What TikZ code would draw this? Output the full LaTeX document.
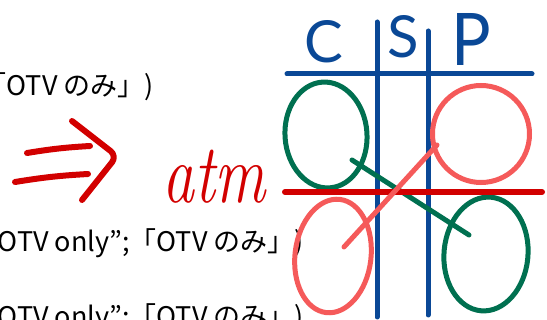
\documentclass[tikz,border=0pt]{standalone}
\usepackage{fontspec}
\newfontfamily\jpfont{Noto Sans CJK JP}
\newfontfamily\handfont{Lato}
\usetikzlibrary{shapes.geometric}
\definecolor{blueC}{RGB}{10,72,150}
\definecolor{greenC}{RGB}{0,112,80}
\definecolor{salmonC}{RGB}{245,90,90}
\definecolor{redC}{RGB}{210,0,0}
\tikzset{
  txt/.style={inner sep=0pt, anchor=base east, font=\jpfont\fontsize{27}{27}\selectfont, text=black},
  bluestroke/.style={draw=blueC, line width=5pt, line cap=round},
  ring/.style={ellipse, draw, line width=5pt, inner sep=0pt},
  greenring/.style={ring, draw=greenC},
  salmonring/.style={ring, draw=salmonC},
  handletter/.style={inner sep=0pt, anchor=base, text=blueC, font=\handfont\fontsize{58}{58}\selectfont},
  arrowstroke/.style={draw=redC, line width=6pt, line cap=round, line join=round},
}
\begin{document}
\begin{tikzpicture}[x=1pt,y=-1pt]
\useasboundingbox (0,0) rectangle (547,320);
\clip (0,0) rectangle (547,320);
% text lines (cut at left)
\node[txt] (l1) at (154,96) {「OTV のみ」)};
\node[txt] (l2) at (304,252) {OTV only”;「OTV のみ」)};
\node[txt] (l3) at (304,327) {OTV only”;「OTV のみ」)};
% grid
\coordinate (h1a) at (287,74);
\coordinate (h1b) at (532,74);
\coordinate (v1a) at (377,22);
\coordinate (v1b) at (377,317);
\coordinate (v2a) at (428,31);
\coordinate (v2b) at (428,315);
\draw[bluestroke] (h1a) -- (h1b);
\draw[bluestroke] (v1a) -- (v1b);
\draw[bluestroke] (v2a) -- (v2b);
% rings
\node[greenring, minimum width=82pt, minimum height=106pt, rotate=4] (gTL) at (326,135) {};
\node[salmonring, minimum width=97pt, minimum height=97pt] (rTR) at (481,134) {};
\node[salmonring, minimum width=76pt, minimum height=114pt, rotate=-7] (rBL) at (333,256) {};
\node[greenring, minimum width=84pt, minimum height=114pt, rotate=-5] (gBR) at (486,254) {};
% diagonals and red divider
\coordinate (g1) at (352,160);
\coordinate (g2) at (469,235);
\draw[draw=greenC, line width=5pt, line cap=round] (g1) -- (g2);
\coordinate (ra) at (285,192);
\coordinate (rb) at (542,192);
\draw[draw=redC, line width=6pt, line cap=round] (ra) -- (rb);
\coordinate (s1) at (437,145);
\coordinate (s2) at (344,247);
\draw[draw=salmonC, line width=5pt, line cap=round] (s1) -- (s2);
% column letters
\node[handletter] (C) at (324,63) {C};
\node[handletter] (S) at (403,58) {S};
\node[handletter, font=\handfont\fontsize{66}{66}\selectfont, yscale=1.1] (P) at (471,66) {P};
% double arrow
\coordinate (a1) at (27,153);
\coordinate (a2) at (90,146);
\coordinate (b1) at (15,182);
\coordinate (b2) at (88,174);
\coordinate (c1) at (72,121);
\coordinate (c2) at (117,156);
\coordinate (c3) at (82,200);
\draw[arrowstroke] (a1) to[bend left=3] (a2);
\draw[arrowstroke] (b1) to[bend left=3] (b2);
\draw[arrowstroke, rounded corners=8pt] (c1) -- (c2) -- (c3);
% atm
\node[inner sep=0pt, anchor=base west, text=redC, font=\itshape\fontsize{84}{84}\selectfont, xscale=0.76] (atm) at (162,203) {atm};
\end{tikzpicture}
\end{document}
